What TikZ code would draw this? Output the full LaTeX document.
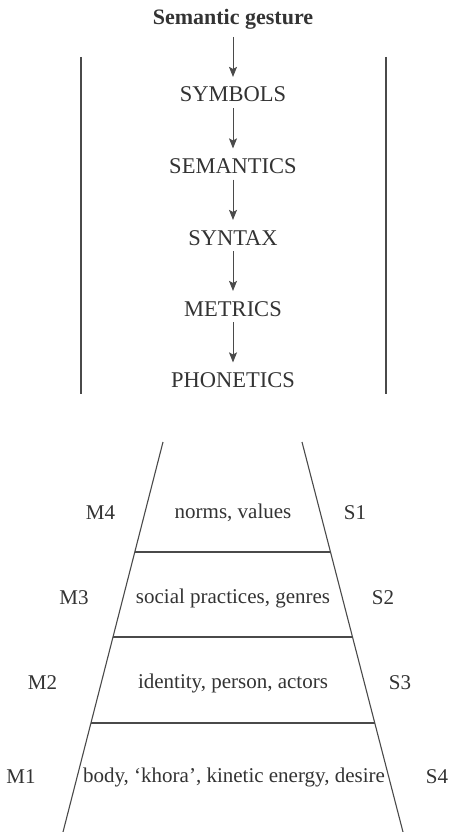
\documentclass[tikz,border=0pt]{standalone}
\usepackage{fontspec}
\setmainfont{Liberation Serif}
\usetikzlibrary{arrows.meta,calc}
\definecolor{ink}{HTML}{333333}
\definecolor{rule}{HTML}{4A4A4A}
\tikzset{
  caps/.style={inner sep=0pt, text depth=0pt, text=ink, font=\fontsize{22.5}{24}\selectfont},
  head/.style={inner sep=0pt, text depth=0pt, text=ink, font=\fontsize{22}{24}\selectfont\bfseries},
  level/.style={inner sep=0pt, text=ink, font=\fontsize{21}{23}\selectfont},
  flow/.style={draw=rule, line width=0.9pt, -{Stealth[length=10pt,width=8pt,inset=2pt]},
               shorten <=6pt, shorten >=10pt},
  bar/.style={draw=rule, line width=1.2pt},
  side/.style={draw=rule, line width=1.1pt},
  shelf/.style={draw=rule, line width=1.6pt}
}
\begin{document}
\begin{tikzpicture}[x=1pt,y=-1pt]
  \useasboundingbox (0,0) rectangle (448,832);

  % chain of levels from gesture to sound
  \node[head, anchor=base] (gest) at (233,25)    {Semantic gesture};
  \node[caps, anchor=base] (sym)  at (233,102)   {SYMBOLS};
  \node[caps, anchor=base] (sem)  at (233,173.5) {SEMANTICS};
  \node[caps, anchor=base] (syn)  at (233,245)   {SYNTAX};
  \node[caps, anchor=base] (met)  at (233,316)   {METRICS};
  \node[caps, anchor=base] (pho)  at (233,387.5) {PHONETICS};

  \draw[flow, shorten <=12pt] (gest.base) -- (sym.north);
  \draw[flow] (sym.south) -- (sem.north);
  \draw[flow] (sem.south) -- (syn.north);
  \draw[flow] (syn.south) -- (met.north);
  \draw[flow] (met.south) -- (pho.north);

  % brackets around the chain
  \draw[bar] (81,57) -- (81,394);
  \draw[bar] (386,57) -- (386,394);

  % widening funnel of social strata
  \coordinate (tl) at (163,442);
  \coordinate (tr) at (302,442);
  \coordinate (bl) at (63,832);
  \coordinate (br) at (403,832);
  \draw[side] (tl) -- (bl);
  \draw[side] (tr) -- (br);
  \draw[shelf] ($(tl)!0.282!(bl)$)  -- ($(tr)!0.282!(br)$);
  \draw[shelf] ($(tl)!0.5!(bl)$)    -- ($(tr)!0.5!(br)$);
  \draw[shelf] ($(tl)!0.7205!(bl)$) -- ($(tr)!0.7205!(br)$);

  \node[level] (l4) at (233,513) {norms, values};
  \node[level] (l3) at (233,598) {social practices, genres};
  \node[level] (l2) at (233,683) {identity, person, actors};
  \node[level] (l1) at (234,777) {body, `khora', kinetic energy, desire};

  \node[level] (m4) at (100.5,513) {M4};
  \node[level] (m3) at (74,598)    {M3};
  \node[level] (m2) at (42.5,683)  {M2};
  \node[level] (m1) at (21,777)    {M1};

  \node[level] (s1) at (355,513) {S1};
  \node[level] (s2) at (383,598) {S2};
  \node[level] (s3) at (400,683) {S3};
  \node[level] (s4) at (437,777) {S4};
\end{tikzpicture}
\end{document}
